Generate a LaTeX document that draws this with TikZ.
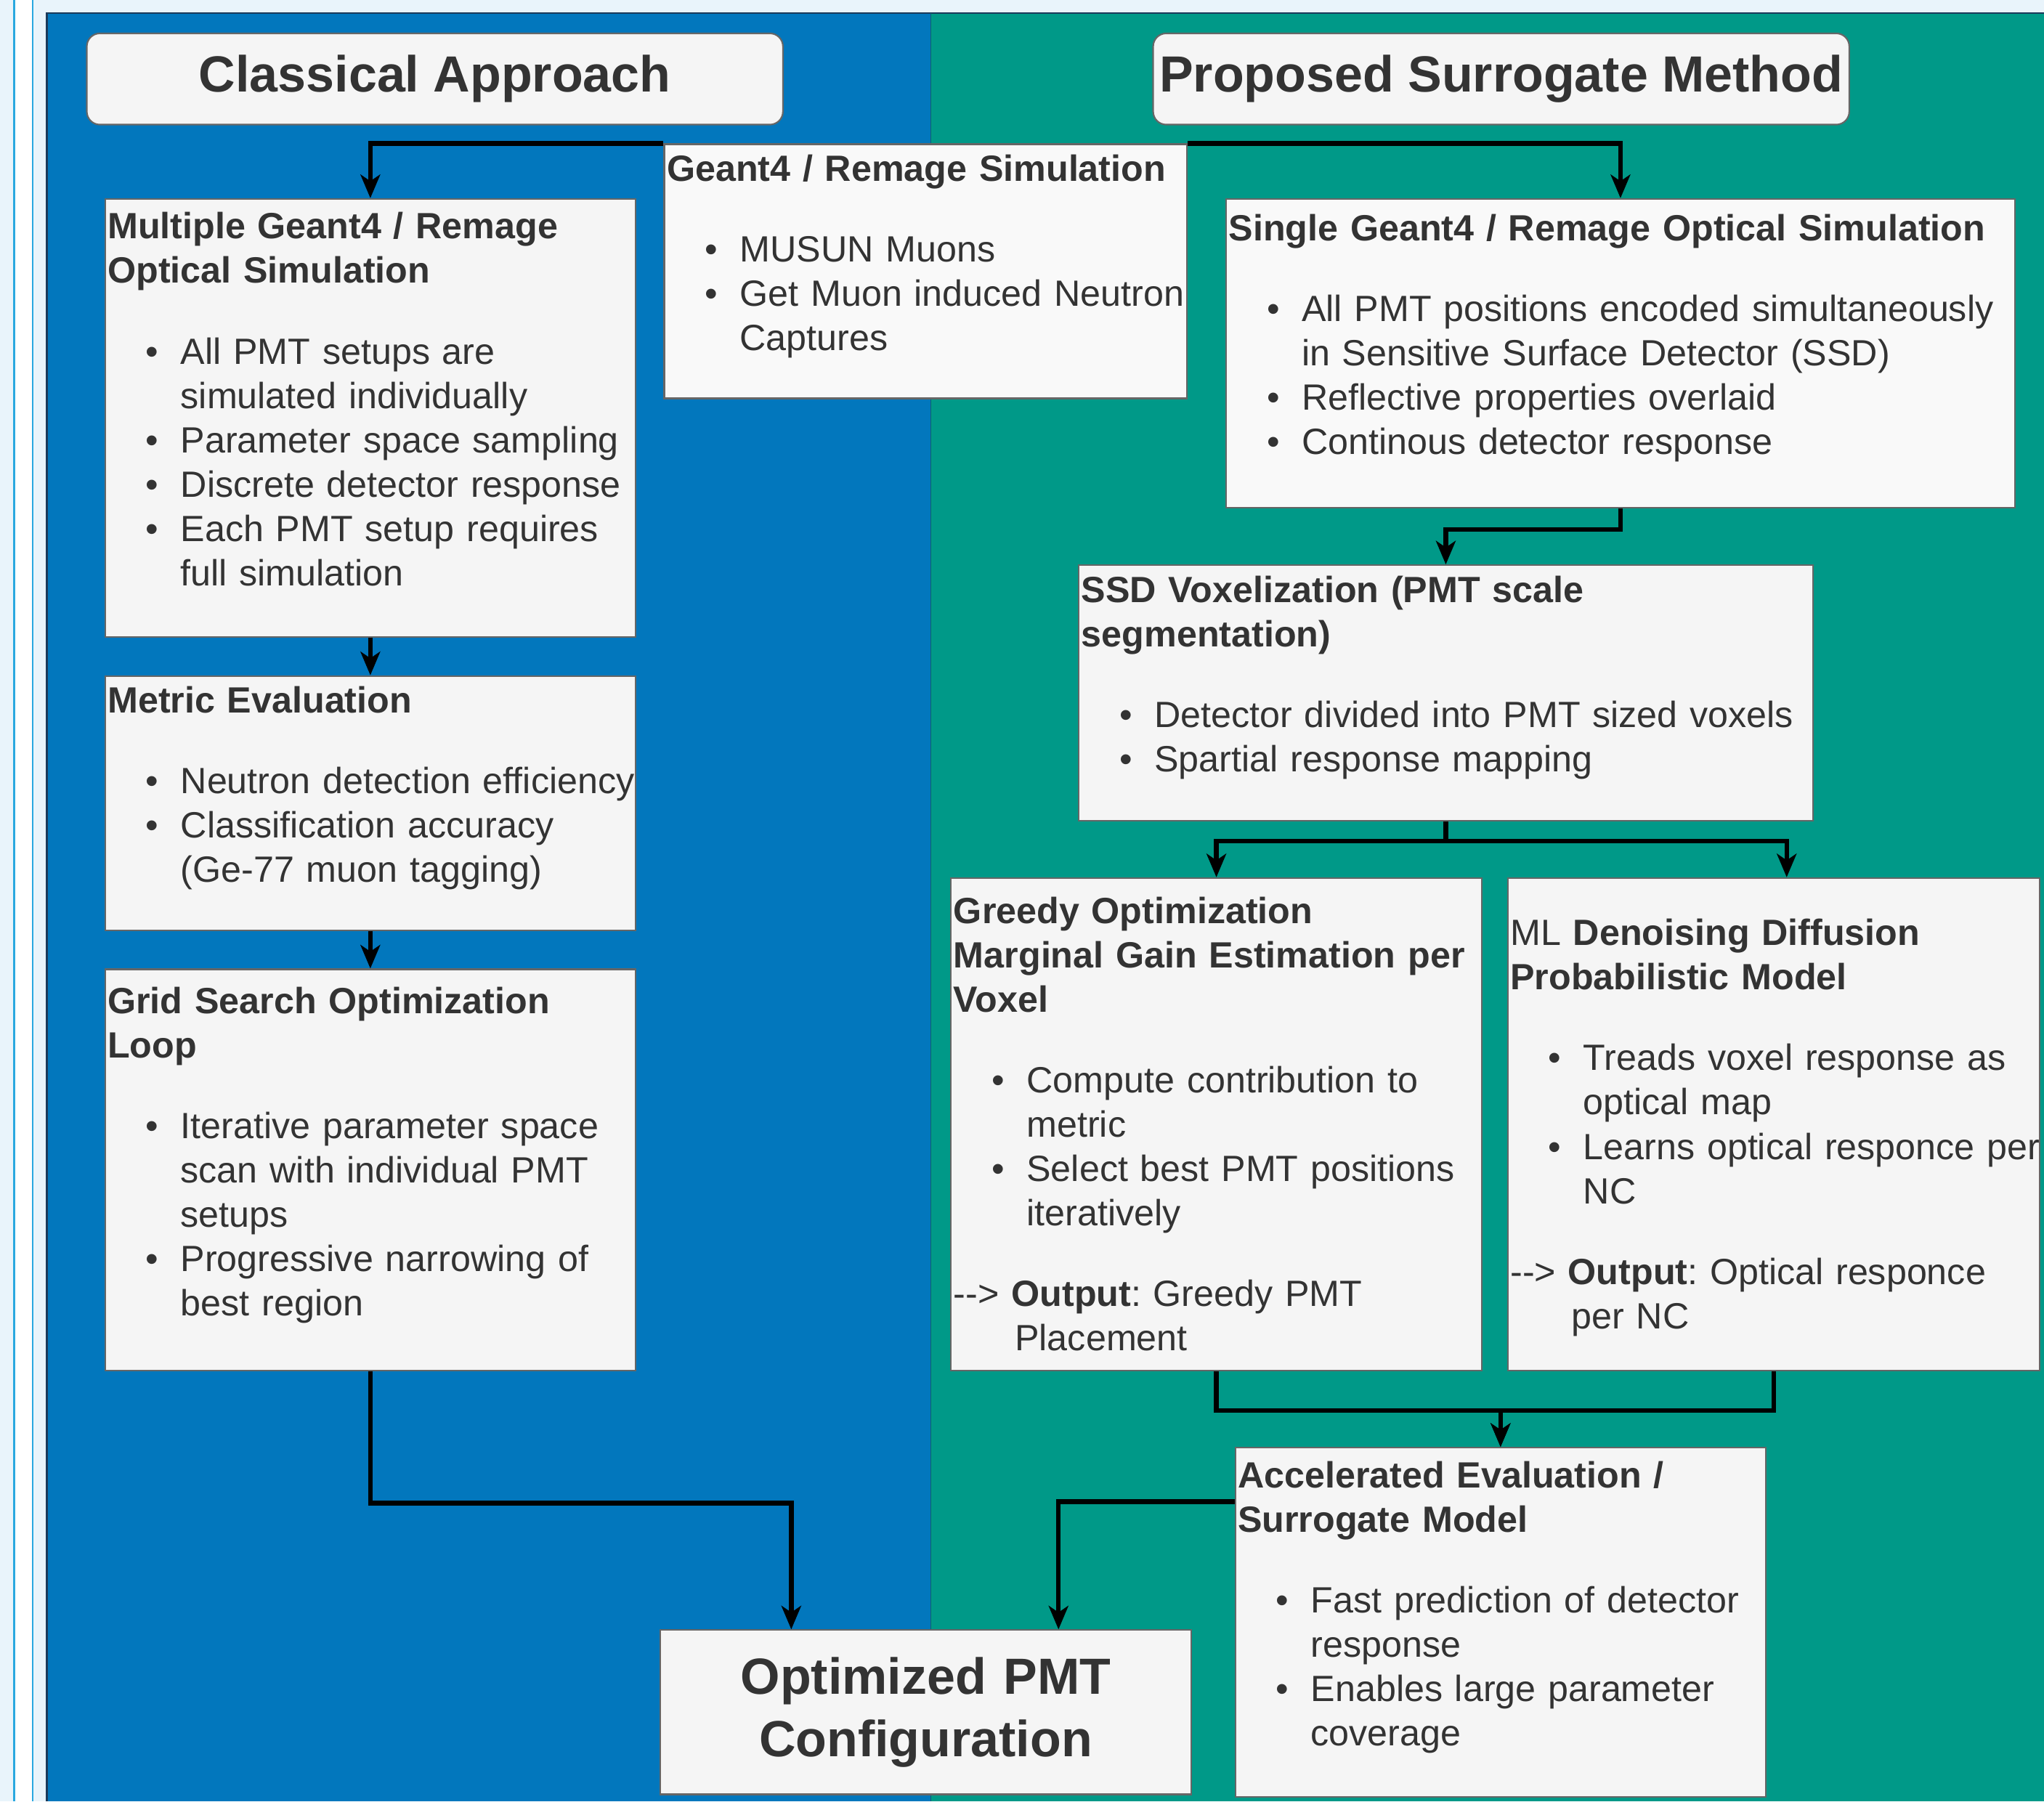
\documentclass[tikz,border=0pt]{standalone}
\usepackage{fontspec}
\setmainfont{Liberation Sans}
\usetikzlibrary{arrows.meta}
\frenchspacing

\definecolor{pagebg}{HTML}{E9F4FB}
\definecolor{railcyan}{HTML}{2AA8E0}
\definecolor{panelblue}{HTML}{0277BD}
\definecolor{panelteal}{HTML}{009988}
\definecolor{panelrim}{HTML}{1B3A5A}
\definecolor{cardfill}{HTML}{F5F5F5}
\definecolor{cardlight}{HTML}{F9F9F9}
\definecolor{cardedge}{HTML}{666666}
\definecolor{ink}{HTML}{333333}

\newcommand{\cardfont}{\fontsize{28}{34}\selectfont}
\newcommand{\headfont}{\fontsize{39}{48}\selectfont\bfseries}
\newcommand{\cardset}{\frenchspacing\parindent=0pt\leftskip=0pt\rightskip=-40pt plus 1fil\relax}
\newcommand{\ls}{\rule[-7.3pt]{0pt}{34pt}}
\newcommand{\ulgap}{\par\vspace{28pt}}
\newcommand{\bul}[1]{\par\leftskip=56pt\noindent\llap{\textbullet\hspace{17pt}}#1}
\newcommand{\outl}[2]{\par\leftskip=0pt\noindent-\kern0pt-\kern0pt> \textbf{Output}: #1\\\hspace*{47pt}#2}

\begin{document}
\begin{tikzpicture}[x=1pt, y=-1pt,
	card/.style={draw=cardedge, line width=1.2pt, fill=cardfill, anchor=north west, inner xsep=2pt, inner ysep=0pt, text=ink, font=\cardfont},
	head/.style={card, rounded corners=10pt, font=\headfont, minimum width=534, minimum height=70},
	flow/.style={line width=3.5pt, -{Stealth[length=18pt, width=15pt, inset=5pt]}}]
			\useasboundingbox (0,0) rectangle (1568,1382);
			\fill[pagebg] (0,0) rectangle (1568,1382);
			\fill[white] (11,0) rectangle (25,1382);
			\draw[railcyan, line width=1.5pt] (11,0) -- (11,1382) (25,0) -- (25,1382);
			\fill[panelblue] (36,10) rectangle (714,1382);
			\fill[panelteal] (714,10) rectangle (1568,1382);
			\draw[panelrim, line width=1.5pt] (36,1382) -- (36,10) -- (1568,10);
			\draw[panelrim!60!panelteal, line width=0.8pt] (714,10) -- (714,1382);

			\node[head] (classic) at (66,25) {Classical Approach};
			\node[head] (proposed) at (884,25) {Proposed Surrogate Method};

			\node[card, fill=cardlight, minimum width=401, minimum height=195, text width=397pt] (geant) at (509,110) {\cardset\ls\textbf{Geant4 / Remage Simulation}\ulgap
				\bul{MUSUN Muons}
				\bul{Get Muon induced Neutron\\Captures\ls}\ulgap};

			\node[card, minimum width=407, minimum height=336, text width=403pt] (multi) at (80,152) {\cardset\ls\textbf{Multiple Geant4 / Remage}\\\textbf{Optical Simulation}\ulgap
				\bul{All PMT setups are\\simulated individually}
				\bul{Parameter space sampling}
				\bul{Discrete detector response}
				\bul{Each PMT setup requires\\full simulation\ls}\ulgap};
			\node[card, minimum width=407, minimum height=195, text width=403pt] (metric) at (80,518) {\cardset\ls\textbf{Metric Evaluation}\ulgap
				\bul{Neutron detection efficiency}
				\bul{Classification accuracy\\(Ge-77 muon tagging)\ls}\ulgap};
			\node[card, minimum width=407, minimum height=308, text width=403pt] (grid) at (80,743) {\cardset\ls\textbf{Grid Search Optimization}\\\textbf{Loop}\ulgap
				\bul{Iterative parameter space\\scan with individual PMT\\setups}
				\bul{Progressive narrowing of\\best region\ls}\ulgap};

			\node[card, fill=cardlight, minimum width=605, minimum height=237, text width=601pt] (single) at (940,152) {\cardset\ls\textbf{Single Geant4 / Remage Optical Simulation}\ulgap
				\bul{All PMT positions encoded simultaneously\\in Sensitive Surface Detector (SSD)}
				\bul{Reflective properties overlaid}
				\bul{Continous detector response\ls}\ulgap};
			\node[card, minimum width=563, minimum height=196, text width=559pt] (ssd) at (827,433) {\cardset\ls\textbf{SSD Voxelization (PMT scale}\\\textbf{segmentation)}\ulgap
				\bul{Detector divided into PMT sized voxels}
				\bul{Spartial response mapping\ls}\ulgap};
			\node[card, minimum width=407, minimum height=378, text width=403pt] (greedy) at (729,673) {\cardset\ls\textbf{Greedy Optimization}\\\textbf{Marginal Gain Estimation per}\\\textbf{Voxel}\ulgap
				\bul{Compute contribution to\\metric}
				\bul{Select best PMT positions\\iteratively}\ulgap
				\outl{Greedy PMT}{Placement\ls}};
			\node[card, minimum width=408, minimum height=378, text width=404pt] (ml) at (1156,673) {\cardset\ls ML \textbf{Denoising Diffusion}\\\textbf{Probabilistic Model}\ulgap
				\bul{Treads voxel response as\\optical map}
				\bul{Learns optical responce per\\NC}\ulgap
				\outl{Optical responce}{per NC\ls}};
			\node[card, minimum width=407, minimum height=268, text width=403pt] (accel) at (947,1110) {\cardset\ls\textbf{Accelerated Evaluation /}\\\textbf{Surrogate Model}\ulgap
				\bul{Fast prediction of detector\\response}
				\bul{Enables large parameter\\coverage\ls}\ulgap};

			\node[card, minimum width=407, minimum height=126, text width=403pt, align=center, font=\headfont] (opt) at (506,1250) {Optimized PMT\\Configuration};

			\draw[flow] (geant.north west) -| (multi.north);
			\draw[flow] (geant.north east) -| (single.north);
			\draw[flow] (multi.south) -- (metric.north);
			\draw[flow] (metric.south) -- (grid.north);
			\draw[flow] (grid.south) -- ++(0,101) -| ([xshift=101pt]opt.north west);
			\draw[flow] (single.south) -- ++(0,16) -| (ssd.north);
			\draw[flow] (ssd.south) -- ++(0,15) -| (greedy.north);
			\draw[flow] (ssd.south) -- ++(0,15) -| ([xshift=10pt]ml.north);
			\draw[flow] (greedy.south) -- ++(0,30) -| (accel.north);
			\draw[flow] (ml.south) -- ++(0,30) -| (accel.north);
			\draw[flow] ([yshift=-42pt]accel.north west) -| ([xshift=306pt]opt.north west);
\end{tikzpicture}
\end{document}
